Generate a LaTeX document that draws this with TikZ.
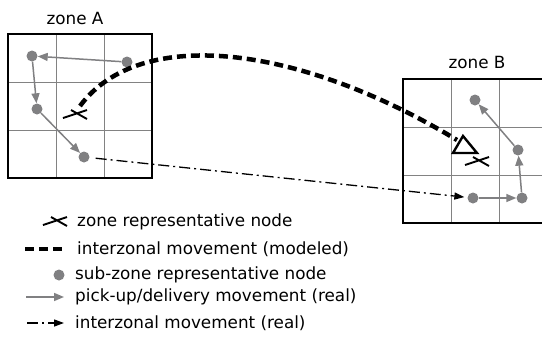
\documentclass[tikz,border=0pt]{standalone}
\usepackage{fontspec}
\setmainfont{DejaVu Sans}
\usetikzlibrary{arrows.meta}
\definecolor{dotgray}{RGB}{128,128,130}
\definecolor{gridgray}{RGB}{130,130,130}
\tikzset{
  dot/.style={circle,fill=dotgray,inner sep=0pt,minimum size=11pt},
  border/.style={draw=black,line width=1.4pt},
  gridline/.style={draw=gridgray,line width=0.9pt},
  realmove/.style={draw=dotgray,line width=1.5pt,-{Triangle[length=10pt,width=8pt]}},
  modeled/.style={draw=black,line width=4.5pt,dash pattern=on 9pt off 5pt},
  realinter/.style={draw=black,line width=1.3pt,dash pattern=on 11pt off 4pt on 2pt off 4pt,-{Triangle[length=10pt,width=7pt]}},
  lbl/.style={font=\fontsize{16.8pt}{18pt}\selectfont,inner sep=0pt},
  crossmark/.pic={\draw[line width=1.9pt] (-12,4) -- (12,-4) (-4,-4) -- (12,5);}
}
\begin{document}
\begin{tikzpicture}[x=1pt,y=-1pt]
\useasboundingbox (0,0) rectangle (542,338);
\clip (0,0) rectangle (542,338);
% zone A
\node[lbl] (labA) at (75,18) {zone A};
\draw[gridline] (56,34) -- (56,178) (104,34) -- (104,178) (8,82) -- (152,82) (8,130) -- (152,130);
\draw[border] (8,34) rectangle (152,178);
% zone B
\node[lbl] (labB) at (477,62) {zone B};
\draw[gridline] (451,79) -- (451,223) (499,79) -- (499,223) (403,127) -- (547,127) (403,175) -- (547,175);
\draw[border] (403,79) rectangle (547,223);
% sub-zone nodes A
\node[dot] (a1) at (32,56) {};
\node[dot] (a2) at (127,62) {};
\node[dot] (a3) at (37,109) {};
\node[dot] (a4) at (84,157) {};
% sub-zone nodes B
\node[dot] (b1) at (475,100) {};
\node[dot] (b2) at (518,150) {};
\node[dot] (b3) at (473,198) {};
\node[dot] (b4) at (522,198) {};
% real movements
\draw[realmove] (a2) -- (a1);
\draw[realmove] (a1) -- (a3);
\draw[realmove] (a3) -- (a4);
\draw[realmove] (b3) -- (b4);
\draw[realmove] (b4) -- (b2);
\draw[realmove] (b2) -- (b1);
% zone representative nodes
\pic at (75,114) {crossmark};
\pic at (477,161) {crossmark};
\coordinate (repA) at (80,106);
\coordinate (repB) at (457,140);
\draw[line width=2.4pt,line join=miter] (463,136) -- (477,153) -- (453,153) -- cycle;
% interzonal modeled
\draw[modeled] (repA) .. controls (140,25) and (300,45) .. (repB);
% interzonal real
\draw[realinter,shorten <=6pt,shorten >=3pt] (a4) -- (b3);
% legend
\pic at (55,221) {crossmark};
\node[lbl,anchor=west] (t1) at (77,222) {zone representative node};
\coordinate (l2a) at (25,249); \coordinate (l2b) at (64,249);
\draw[modeled] (l2a) -- (l2b);
\node[lbl,anchor=west] (t2) at (77,249) {interzonal movement (modeled)};
\node[dot] (ld) at (59,275) {};
\node[lbl,anchor=west] (t3) at (75,275) {sub-zone representative node};
\coordinate (l4a) at (26,297); \coordinate (l4b) at (64,297);
\draw[realmove] (l4a) -- (l4b);
\node[lbl,anchor=west] (t4) at (75,297) {pick-up/delivery movement (real)};
\coordinate (l5a) at (27,323); \coordinate (l5b) at (64,323);
\draw[realinter] (l5a) -- (l5b);
\node[lbl,anchor=west] (t5) at (75,323) {interzonal movement (real)};
\end{tikzpicture}
\end{document}
